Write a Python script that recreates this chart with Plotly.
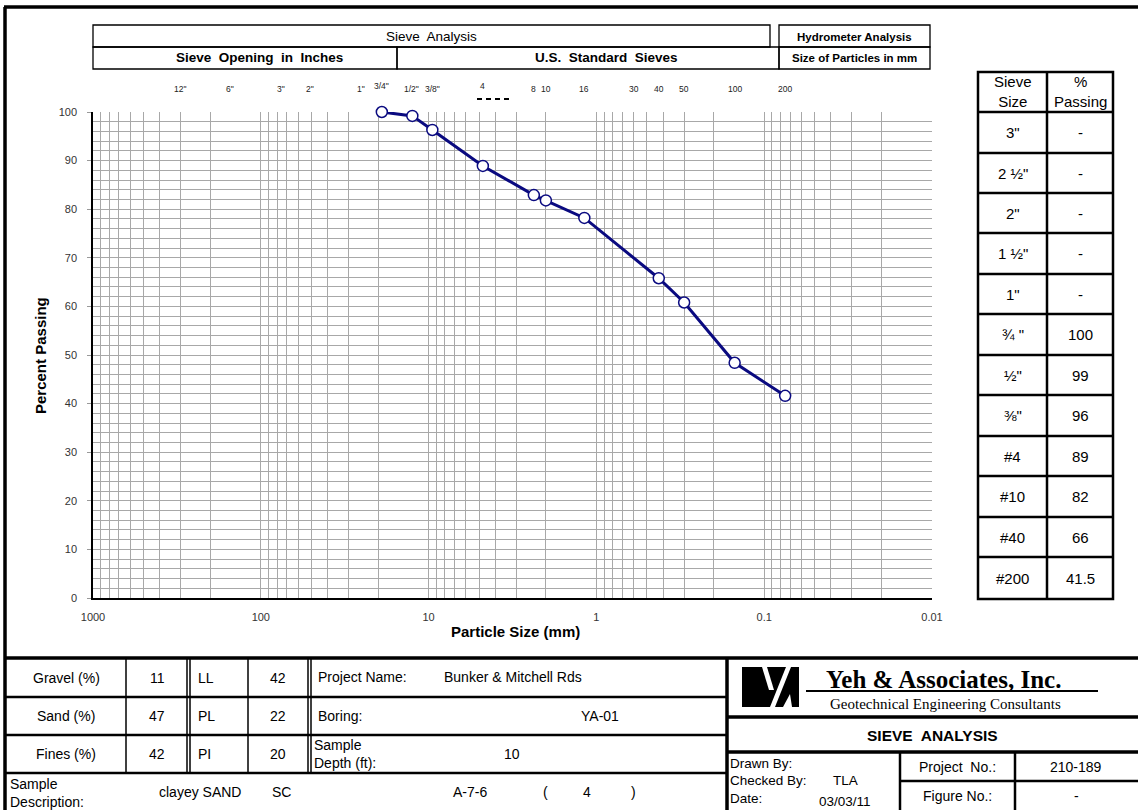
import math
import plotly.graph_objects as go

# ---------------- data ----------------
sieve_mm = [19.0, 12.5, 9.5, 4.75, 2.36, 2.0, 1.18, 0.425, 0.3, 0.15, 0.075]
pct_passing = [100, 99.2, 96.3, 88.9, 82.9, 81.8, 78.2, 65.8, 60.8, 48.4, 41.6]

top_label_text = ['12"', '6"', '3"', '2"', '1"', '3/4"', '1/2"', '3/8"', '4', '8', '10',
                  '16', '30', '40', '50', '100', '200']
top_label_mm = [304.8, 152.4, 76.2, 50.8, 25.4, 19.0, 12.7, 9.5, 4.75, 2.36, 2.0,
                1.18, 0.6, 0.425, 0.3, 0.15, 0.075]

x_major = [1000, 100, 10, 1, 0.1, 0.01]
x_major_text = ['1000', '100', '10', '1', '0.1', '0.01']
y_ticks = list(range(0, 101, 10))

table_sieve = ['3"', '2 ½"', '2"', '1 ½"', '1"', '¾ "', '½"', '⅜"', '#4', '#10', '#40', '#200']
table_pass = ['-', '-', '-', '-', '-', '100', '99', '96', '89', '82', '66', '41.5']

soil_labels = ['Gravel (%)', 'Sand (%)', 'Fines (%)']
soil_vals = ['11', '47', '42']
limit_labels = ['LL', 'PL', 'PI']
limit_vals = ['42', '22', '20']

SANS = 'Liberation Sans, Arial, sans-serif'
SERIF = 'Liberation Serif, Times New Roman, serif'

# ---------------- geometry helpers (pixel -> paper) ----------------
FW, FH = 1138, 810
L, R, T, B = 93, 932, 112, 598
PW, PH = R - L, B - T


def X(px):
    return (px - L) / PW


def Y(py):
    return (B - py) / PH


shapes = []
annotations = []


def hline(x0, x1, y, w=1.5, color='black', dash=None):
    d = dict(type='line', xref='paper', yref='paper', x0=X(x0), x1=X(x1), y0=Y(y), y1=Y(y),
             line=dict(color=color, width=w))
    if dash:
        d['line']['dash'] = dash
    shapes.append(d)


def vline(x, y0, y1, w=1.5, color='black'):
    shapes.append(dict(type='line', xref='paper', yref='paper', x0=X(x), x1=X(x), y0=Y(y0), y1=Y(y1),
                       line=dict(color=color, width=w)))


def rect(x0, y0, x1, y1, w=1.5, fill='rgba(0,0,0,0)', lc='black'):
    shapes.append(dict(type='rect', xref='paper', yref='paper', x0=X(x0), x1=X(x1), y0=Y(y1), y1=Y(y0),
                       line=dict(color=lc, width=w), fillcolor=fill))


def poly(pts, color='black'):
    path = 'M ' + ' L '.join('%f,%f' % (X(a), Y(b)) for a, b in pts) + ' Z'
    shapes.append(dict(type='path', xref='paper', yref='paper', path=path,
                       fillcolor=color, line=dict(color=color, width=0)))


def txt(px, py, s, size=14, bold=False, xanchor='center', family=SANS, color='black', angle=0):
    annotations.append(dict(x=X(px), y=Y(py), xref='paper', yref='paper',
                            text=('<b>%s</b>' % s if bold else s), showarrow=False,
                            xanchor=xanchor, yanchor='middle', textangle=angle,
                            align=('left' if xanchor == 'left' else 'center'),
                            font=dict(size=size, family=family, color=color)))


# ---------------- outer frame ----------------
hline(4, FW, 7, w=3.5)
vline(5, 7, FH, w=3.5)

# ---------------- header boxes ----------------
rect(93, 25, 770, 47, w=1.3)
rect(779, 25, 930, 47, w=1.3)
rect(93, 47, 397, 69, w=1.3)
rect(397, 47, 779, 69, w=1.3)
rect(779, 47, 930, 69, w=1.3)
txt(431, 37, 'Sieve  Analysis', size=13.5)
txt(854, 37, 'Hydrometer Analysis', size=11.5, bold=True)
txt(259, 58, 'Sieve  Opening  in  Inches', size=13.5, bold=True)
txt(606, 58, 'U.S.  Standard  Sieves', size=13.5, bold=True)
txt(854, 58, 'Size of Particles in mm', size=11.5, bold=True)

# top sieve labels (positioned on the data x-axis)
for s, mm in zip(top_label_text, top_label_mm):
    yy = 86 if s in ('3/4"', '4') else 89
    annotations.append(dict(x=math.log10(mm), y=Y(yy), xref='x', yref='paper', text=s,
                            showarrow=False, xanchor='center', yanchor='middle',
                            font=dict(size=8.5, family=SANS, color='#222')))
hline(477, 510, 99, w=2, dash='5px,4px')

# axis titles
txt(40, 355, 'Percent Passing', size=15, bold=True, angle=-90)
txt(515, 631, 'Particle Size (mm)', size=15, bold=True)

# ---------------- right summary table ----------------
tx0, tx1, tx2 = 978, 1047, 1113
row_y = [72, 112, 153, 193, 233, 274, 314, 355, 395, 436, 476, 517, 557, 599]
rect(tx0, row_y[0], tx2, row_y[-1], w=2.5)
vline(tx1, row_y[0], row_y[-1], w=2.5)
for yy in row_y[1:-1]:
    hline(tx0, tx2, yy, w=2.5)
txt((tx0 + tx1) / 2, (row_y[0] + row_y[1]) / 2, 'Sieve<br>Size', size=15)
txt((tx1 + tx2) / 2, (row_y[0] + row_y[1]) / 2, '%<br>Passing', size=15)
for i, (s, p) in enumerate(zip(table_sieve, table_pass)):
    cy = (row_y[i + 1] + row_y[i + 2]) / 2
    txt((tx0 + tx1) / 2, cy, s, size=15)
    txt((tx1 + tx2) / 2, cy, p, size=15)

# ---------------- bottom block ----------------
hline(4, FW, 658, w=3.5)
rows = [658, 697, 735, 773]
for yy in rows[1:]:
    hline(5, 727, yy, w=2.5)
vline(727, 658, FH, w=3.5)
for xx in (126, 248):
    vline(xx, 658, 773, w=1.5)
for xx in (187, 190, 308, 311):
    vline(xx, 658, 773, w=1.5)
for i in range(3):
    cy = (rows[i] + rows[i + 1]) / 2
    txt(66, cy, soil_labels[i])
    txt(157, cy, soil_vals[i])
    txt(196, cy, limit_labels[i], xanchor='left')
    txt(278, cy, limit_vals[i])
txt(316, 677, 'Project Name:', xanchor='left')
txt(513, 677, 'Bunker & Mitchell Rds')
txt(316, 716, 'Boring:', xanchor='left')
txt(600, 716, 'YA-01')
txt(312, 754, 'Sample<br>Depth (ft):', xanchor='left')
txt(512, 754, '10')
txt(8, 793, 'Sample<br>Description:', xanchor='left')
txt(200, 792, 'clayey SAND')
txt(281, 792, 'SC')
txt(470, 792, 'A-7-6')
txt(545, 792, '(')
txt(587, 792, '4')
txt(633, 792, ')')

# company block
hline(727, FW, 717, w=3.5)
hline(727, FW, 752, w=3.5)
vline(900, 752, FH, w=2.5)
vline(1015, 752, FH, w=2.5)
hline(900, FW, 781, w=2.5)
# logo
rect(742, 667, 799, 707, w=0, fill='black', lc='black')
poly([(762, 667), (767, 667), (774, 690), (769, 690)], color='white')
poly([(786, 667), (791, 667), (775, 707), (770, 707)], color='white')
poly([(783, 707), (792, 707), (790, 694)], color='white')
txt(943, 679, 'Yeh & Associates, Inc.', size=25, bold=True, family=SERIF)
hline(806, 1098, 691, w=1.8)
txt(945, 704, 'Geotechnical Engineering Consultants', size=15, family=SERIF)
txt(932, 735, 'SIEVE  ANALYSIS', size=15.5, bold=True)
txt(728, 763, 'Drawn By:', size=13.5, xanchor='left')
txt(728, 780, 'Checked By:', size=13.5, xanchor='left')
txt(728, 798, 'Date:', size=13.5, xanchor='left')
txt(845, 780, 'TLA', size=13.5)
txt(845, 801, '03/03/11', size=13.5)
txt(957, 767, 'Project  No.:')
txt(1076, 767, '210-189')
txt(957, 796, 'Figure No.:')
txt(1076, 796, '-')

# ---------------- figure ----------------
x_minor = [m * d for d in (100, 10, 1, 0.1, 0.01) for m in range(2, 10)]

fig = go.Figure()
fig.add_trace(go.Scatter(
    x=sieve_mm, y=pct_passing, mode='lines+markers', cliponaxis=False,
    line=dict(color='#0a0a80', width=3),
    marker=dict(size=11, color='white', line=dict(color='#0a0a80', width=1.5)),
    showlegend=False, hoverinfo='x+y'))

fig.update_layout(
    width=FW, height=FH, autosize=False,
    margin=dict(l=L, r=FW - R, t=T, b=FH - B, pad=0),
    paper_bgcolor='white', plot_bgcolor='white',
    shapes=shapes, annotations=annotations,
    font=dict(family=SANS, color='black'),
    xaxis=dict(type='log', range=[3, -2], tickmode='array', tickvals=x_major, ticktext=x_major_text,
               showgrid=True, gridcolor='#a8a8a8', gridwidth=1,
               minor=dict(tickmode='array', tickvals=x_minor, showgrid=True, gridcolor='#a8a8a8',
                          gridwidth=1),
               showline=True, linecolor='black', linewidth=1.5, zeroline=False,
               ticks='', tickfont=dict(size=11, color='#333'), ticklabelstandoff=8),
    yaxis=dict(range=[0, 100], tickmode='array', tickvals=y_ticks,
               showgrid=True, gridcolor='#a8a8a8', gridwidth=1,
               minor=dict(dtick=2, showgrid=True, gridcolor='#a8a8a8', gridwidth=1),
               showline=True, linecolor='black', linewidth=1.5, zeroline=False,
               ticks='outside', ticklen=4, tickcolor='#999', ticklabelstandoff=8,
               tickfont=dict(size=11, color='#333')),
)

fig.write_html("out.html", config={'displayModeBar': False},
               post_script="document.body.style.margin='0';")
